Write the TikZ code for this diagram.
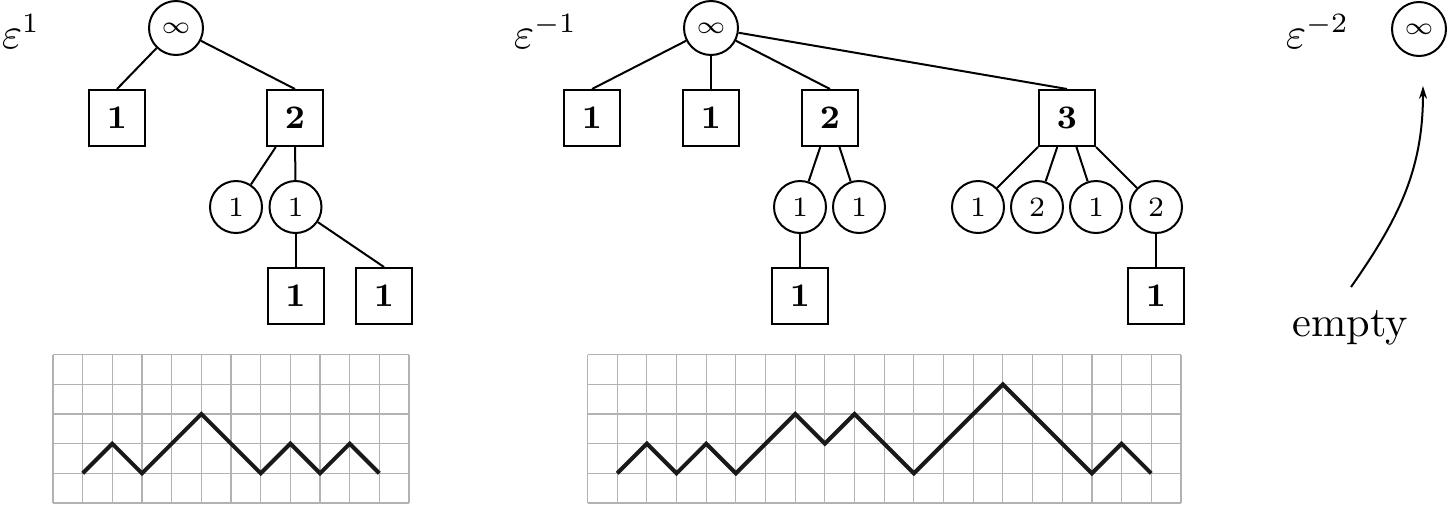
\documentclass[tikz,border=0pt]{standalone}
\usetikzlibrary{arrows.meta}
\begin{document}
\begin{tikzpicture}[x=0.25pt,y=-0.25pt,
  sq/.style={draw, line width=0.5pt, minimum size=14pt, inner sep=0pt, font=\fontsize{8.2}{9}\selectfont\bfseries},
  ci/.style={circle, draw, line width=0.5pt, minimum size=13pt, inner sep=0pt, font=\fontsize{7}{8}\selectfont},
  rt/.style={circle, draw, line width=0.5pt, minimum size=13.5pt, inner sep=0pt, font=\fontsize{6}{7}\selectfont},
  edge/.style={line width=0.5pt},
  lab/.style={anchor=base west, inner sep=0pt, font=\fontsize{10.5}{12}\selectfont},
  gridline/.style={gray!60, line width=0.3pt},
  walk/.style={line width=1pt, line join=miter, black!90}
]
\useasboundingbox (0,0) rectangle (1454,504);

% labels
\node[lab] (L1) at (1,48) {$\varepsilon^{1}$};
\node[lab] (L2) at (513,48) {$\varepsilon^{-1}$};
\node[lab] (L3) at (1285,48) {$\varepsilon^{-2}$};

% left tree
\node[rt] (rA) at (176,28) {$\infty$};
\node[sq] (A1) at (117,118) {1};
\node[sq] (A2) at (295,118) {2};
\node[ci] (A21) at (236,207) {1};
\node[ci] (A22) at (295.5,207) {1};
\node[sq] (A221) at (295.5,296) {1};
\node[sq] (A222) at (384,296) {1};
\draw[edge] (rA) -- (A1.north);
\draw[edge] (rA) -- (A2.north);
\draw[edge] (A2) -- (A21);
\draw[edge] (A2) -- (A22);
\draw[edge] (A22) -- (A221);
\draw[edge] (A22) -- (A222.north);

% middle tree
\node[rt] (rB) at (711,28) {$\infty$};
\node[sq] (B1) at (592,118) {1};
\node[sq] (B2) at (711,118) {1};
\node[sq] (B3) at (830,118) {2};
\node[sq] (B4) at (1067,118) {3};
\node[ci] (B31) at (800,207) {1};
\node[ci] (B32) at (859,207) {1};
\node[sq] (B311) at (800,296) {1};
\node[ci] (B41) at (978,207) {1};
\node[ci] (B42) at (1037,207) {2};
\node[ci] (B43) at (1096,207) {1};
\node[ci] (B44) at (1156,207) {2};
\node[sq] (B441) at (1156,296) {1};
\draw[edge] (rB) -- (B1.north);
\draw[edge] (rB) -- (B2.north);
\draw[edge] (rB) -- (B3.north);
\draw[edge] (rB) -- (B4.north);
\draw[edge] (B3) -- (B31);
\draw[edge] (B3) -- (B32);
\draw[edge] (B31) -- (B311);
\draw[edge] (B4) -- (B41);
\draw[edge] (B4) -- (B42);
\draw[edge] (B4) -- (B43);
\draw[edge] (B4) -- (B44);
\draw[edge] (B44) -- (B441);

% right part
\node[rt] (rC) at (1419,29) {$\infty$};
\node[anchor=base, inner sep=0pt, font=\fontsize{10.6}{12}\selectfont] (E) at (1350,336) {empty};
\coordinate (arrS) at (1351,287);
\coordinate (arrE) at (1423,86);
\draw[edge, -{Stealth[length=3.2pt,width=2pt]}] (arrS) to[out=55, in=-90] (arrE);

% left grid
\begin{scope}[shift={(53,503)}, x=7.4175pt, y=7.4175pt]
  \foreach \i in {0,...,12} \draw[gridline] (\i,0) -- (\i,5);
  \foreach \j in {0,...,5} \draw[gridline] (0,\j) -- (12,\j);
  \draw[walk] (1,1) -- (2,2) -- (3,1) -- (4,2) -- (5,3) -- (6,2) -- (7,1) -- (8,2) -- (9,1) -- (10,2) -- (11,1);
\end{scope}

% middle grid
\begin{scope}[shift={(587.5,503)}, x=7.4175pt, y=7.4175pt]
  \foreach \i in {0,...,20} \draw[gridline] (\i,0) -- (\i,5);
  \foreach \j in {0,...,5} \draw[gridline] (0,\j) -- (20,\j);
  \draw[walk] (1,1) -- (2,2) -- (3,1) -- (4,2) -- (5,1) -- (6,2) -- (7,3) -- (8,2) -- (9,3) -- (10,2) -- (11,1) -- (12,2) -- (13,3) -- (14,4) -- (15,3) -- (16,2) -- (17,1) -- (18,2) -- (19,1);
\end{scope}
\end{tikzpicture}
\end{document}
